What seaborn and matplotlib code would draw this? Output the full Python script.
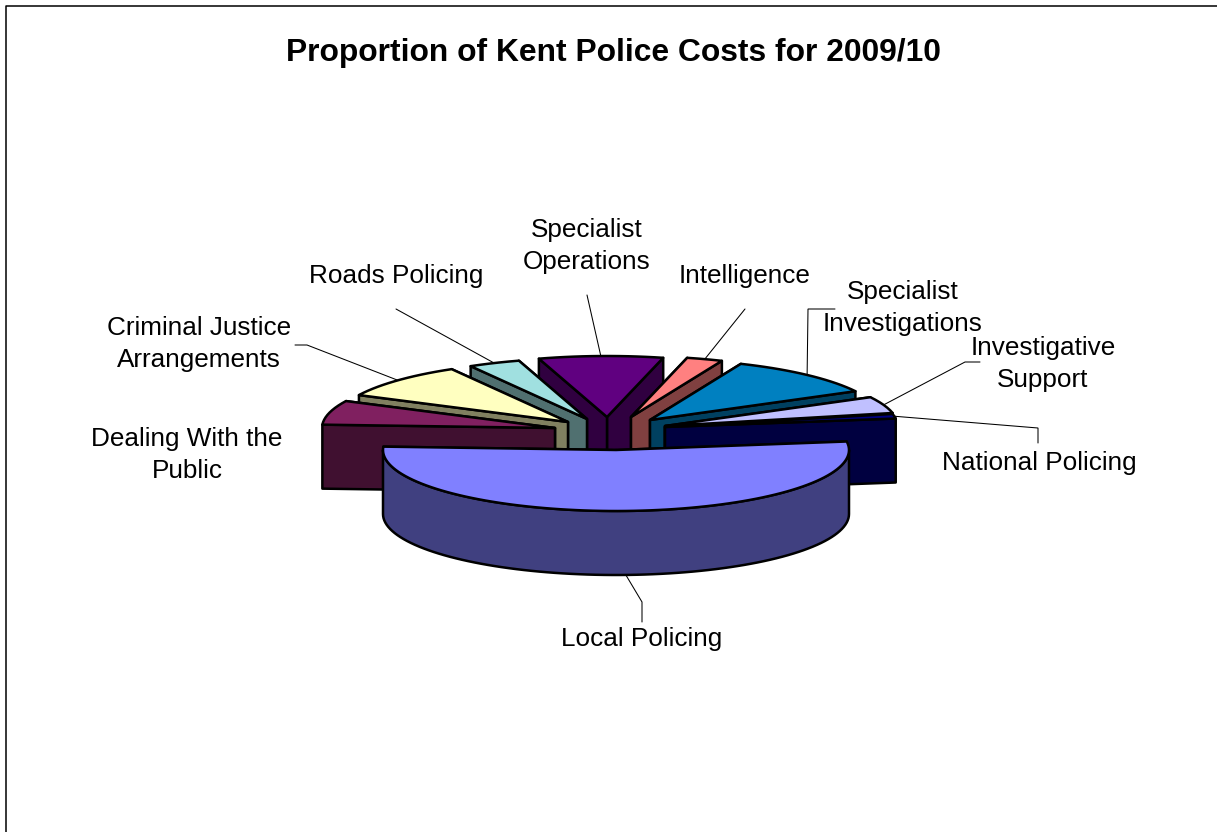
import numpy as np
import matplotlib
matplotlib.use("Agg")
import matplotlib.pyplot as plt
from matplotlib.patches import Polygon
import seaborn as sns

# Share of the 2009/10 budget, in percent, clockwise from the first slice
categories = ["Local Policing", "Dealing With the\nPublic", "Criminal Justice\nArrangements",
              "Roads Policing", "Specialist\nOperations", "Intelligence",
              "Specialist\nInvestigations", "Investigative\nSupport", "National Policing"]
shares = [53.1, 6.4, 9.4, 3.6, 8.6, 2.5, 10.8, 4.4, 1.2]
top_colours = ["#8080FF", "#802060", "#FFFFC0", "#A0E0E0", "#600080",
               "#FF8080", "#0080C0", "#C0C0FF", "#000080"]

# Pie layout in figure pixels: hub, ellipse radii, extrusion depth, first-slice angle
HUB = np.array([616.0, 450.0])
RX, RY, DEPTH = 233.0, 61.0, 64.0
START_ANGLE = 82.0
explode_dx = [0, -61, -48, -29, -9, 15, 34, 49, 49]
explode_dy = [0, -22, -28, -31, -33, -33, -30, -24, -23]

# Label centres and elbow points for the leader lines (None = no line)
label_x = [642, 187, 199, 396, 587, 745, 903, 1043, 1039]
label_y = [639, 455, 344, 276, 246, 276, 308, 364, 463]
leader_elbows = [
    [(642, 622), (642, 602)],
    None,
    [(295, 345), (307, 345)],
    [(396, 309)],
    [(587, 295)],
    [(745, 309)],
    [(835, 309), (808, 309)],
    [(980, 362), (965, 362)],
    [(1038, 443), (1038, 428)],
]

sns.set_theme(style="white")
plt.rcParams["font.family"] = ["Liberation Sans", "DejaVu Sans"]
palette = sns.color_palette(top_colours)
wall_palette = [tuple(c * 0.5 for c in colour) for colour in palette]

fig = plt.figure(figsize=(12.17, 8.32), dpi=100, facecolor="white")
ax = fig.add_axes([0, 0, 1, 1])
ax.set_xlim(0, 1217)
ax.set_ylim(832, 0)
ax.axis("off")

EDGE = dict(edgecolor="black", linewidth=1.8, joinstyle="round")


def rim(centre, theta_deg):
    theta = np.radians(theta_deg)
    return np.column_stack([centre[0] + RX * np.sin(theta), centre[1] - RY * np.cos(theta)])


def extrude(path):
    return np.vstack([path, path[::-1] + [0, DEPTH]])


sweeps = np.array(shares) / sum(shares) * 360
starts = START_ANGLE + np.concatenate([[0], np.cumsum(sweeps)[:-1]])
mids = starts + sweeps / 2
centres = HUB + np.column_stack([explode_dx, explode_dy])

# Paint from the back of the pie to the front
for i in np.argsort(-np.cos(np.radians(mids))):
    centre, a0, a1 = centres[i], starts[i], starts[i] + sweeps[i]
    arc = rim(centre, np.linspace(a0, a1, max(int(sweeps[i] / 2), 3)))

    # Cut faces, farther one first
    edges = sorted([arc[0], arc[-1]], key=lambda p: p[1])
    for end in edges:
        ax.add_patch(Polygon(extrude(np.array([centre, end])), facecolor=wall_palette[i], **EDGE))

    # Outer wall where the rim faces the viewer
    lo, hi = max(a0, 90.0), min(a1, 270.0)
    if hi > lo:
        front = rim(centre, np.linspace(lo, hi, 90))
        ax.add_patch(Polygon(extrude(front), facecolor=wall_palette[i], **EDGE))

    ax.add_patch(Polygon(np.vstack([centre, arc]), facecolor=palette[i], **EDGE))

# Leader lines run from the middle of each slice's rim to the elbow points
for i, elbows in enumerate(leader_elbows):
    if elbows is None:
        continue
    anchor = rim(centres[i], [mids[i]])[0]
    if 90 < mids[i] < 270:
        anchor = anchor + [0, DEPTH]
    xs, ys = zip(*(list(elbows) + [tuple(anchor)]))
    ax.plot(xs, ys, color="black", linewidth=0.75, solid_joinstyle="miter", zorder=5)

for name, x, y in zip(categories, label_x, label_y):
    ax.text(x, y, name, ha="center", va="center", fontsize=18.8, color="black",
            linespacing=1.47, zorder=6)

ax.text(613, 53, "Proportion of Kent Police Costs for 2009/10", ha="center", va="center",
        fontsize=22.9, fontweight="bold", color="black")

# Chart frame
ax.plot([5.5, 5.5, 1217], [832, 5.5, 5.5], color="black", linewidth=1.1, zorder=7)

fig.savefig("out.png", dpi=100, facecolor="white")
